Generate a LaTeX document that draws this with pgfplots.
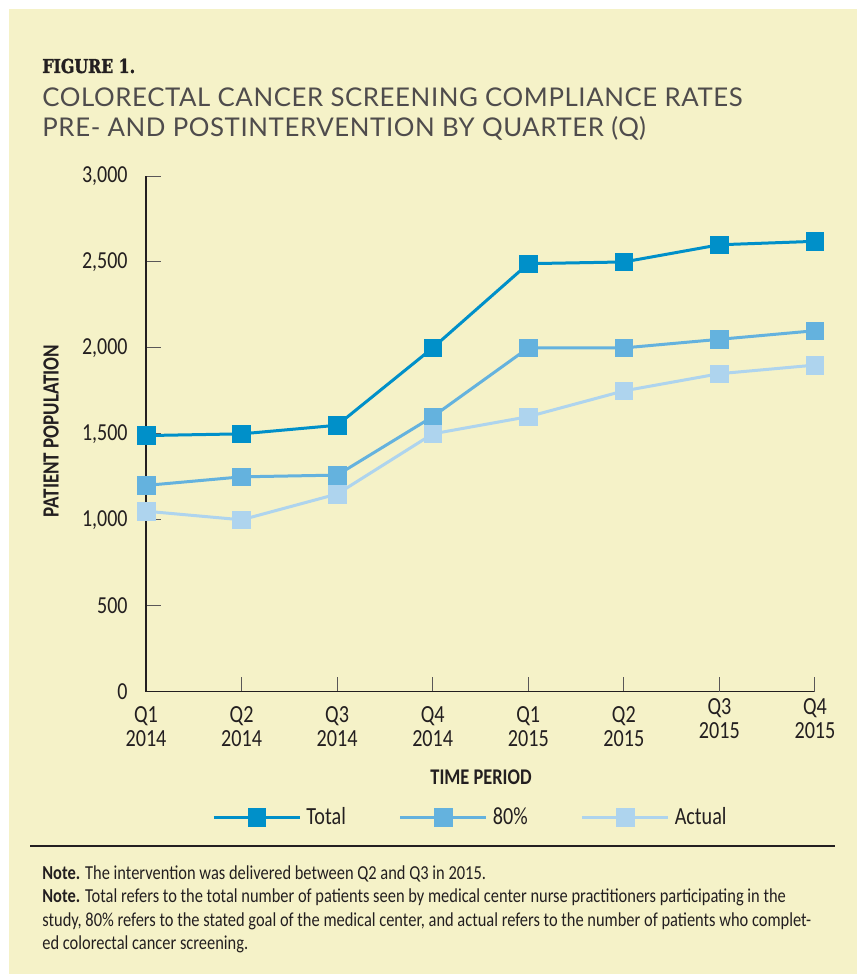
\documentclass[border=0pt]{standalone}
\usepackage{pgfplots}
\pgfplotsset{compat=1.18}
\usepackage{fontspec}
\setmainfont[FakeStretch=0.82]{Carlito}
\newfontfamily\notefont[FakeStretch=0.83]{Carlito}
\newfontfamily\titlefont[LetterSpace=2.3]{Lato}
\newfontfamily\figfont[FakeStretch=0.82, FakeBold=1.5]{DejaVu Serif}
\definecolor{bg}{RGB}{245,242,200}
\definecolor{ctotal}{RGB}{0,144,201}
\definecolor{ceighty}{RGB}{100,178,222}
\definecolor{cactual}{RGB}{174,212,238}
\definecolor{ink}{RGB}{35,31,32}
\begin{document}
\begin{tikzpicture}
\path[fill=white] (0pt,0pt) rectangle (428.5pt,-487pt);
\fill[bg] (4.5pt,-4.5pt) rectangle (428.5pt,-487pt);
\node[anchor=base west, inner sep=0pt, text=ink] at (21pt,-36.5pt) {\figfont\fontsize{9.6}{10}\selectfont\bfseries FIGURE 1.};
\node[anchor=base west, inner sep=0pt, text=ink!80] at (21pt,-53pt) {\titlefont\fontsize{12.9}{14}\selectfont COLORECTAL CANCER SCREENING COMPLIANCE RATES};
\node[anchor=base west, inner sep=0pt, text=ink!80] at (21pt,-68.5pt) {\titlefont\fontsize{12.9}{14}\selectfont PRE- AND POSTINTERVENTION BY QUARTER (Q)};
\begin{axis}[
  at={(73pt,-345.85pt)}, anchor=south west,
  scale only axis, width=334.5pt, height=257.85pt,
  xmin=0, xmax=7, ymin=0, ymax=3000,
  clip=false,
  axis lines=left,
  axis line style={-, draw=ink, line width=0.75pt},
  tick align=inside, major tick length=7.5pt,
  tick style={draw=ink!75, line width=0.5pt},
  xtick={0,...,5},
  xticklabels={{Q1\\2014},{Q2\\2014},{Q3\\2014},{Q4\\2014},{Q1\\2015},{Q2\\2015}},
  extra x ticks={6,7},
  extra x tick labels={{Q3\\2015},{Q4\\2015}},
  extra x tick style={xticklabel style={yshift=4pt}},
  xticklabel style={align=center, anchor=north, inner sep=0pt, yshift=-7pt, font=\fontsize{12.3}{12.2}\selectfont, text=ink},
  ytick={0,500,...,3000},
  yticklabel style={anchor=east, inner sep=0pt, xshift=-9pt, font=\fontsize{12.2}{13}\selectfont, text=ink},
  /pgf/number format/assume math mode=true,
  /pgf/number format/1000 sep={,},
  legend columns=3,
  legend style={draw=none, fill=none, at={(0.0987,-0.244)}, anchor=west, inner sep=0pt,
    font=\fontsize{12.3}{13}\selectfont, text=ink,
    /tikz/every even column/.append style={column sep=24pt},
    nodes={inner sep=2.5pt}},
  legend image code/.code={\draw[mark repeat=2,mark phase=2,#1] plot coordinates {(0pt,0pt) (21.5pt,0pt) (43pt,0pt)};},
  every axis plot/.append style={line width=1.5pt, mark=square*, mark size=4.4pt},
]
\addplot[color=ctotal, mark options={line width=0.3pt, fill=ctotal, draw=ctotal}] coordinates {
(0,1490) (1,1500) (2,1550) (3,2000) (4,2490) (5,2500) (6,2600) (7,2620)};
\addlegendentry{Total}
\addplot[color=ceighty, mark options={line width=0.3pt, fill=ceighty, draw=ceighty}] coordinates {
(0,1200) (1,1250) (2,1260) (3,1600) (4,2000) (5,2000) (6,2050) (7,2100)};
\addlegendentry{80\%}
\addplot[color=cactual, mark options={line width=0.3pt, fill=cactual, draw=cactual}] coordinates {
(0,1050) (1,1000) (2,1150) (3,1500) (4,1600) (5,1750) (6,1850) (7,1900)};
\addlegendentry{Actual}
\end{axis}
\node[rotate=90, inner sep=0pt, text=ink] at (25.5pt,-215.5pt) {\fontsize{11.6}{12}\selectfont\bfseries PATIENT POPULATION};
\node[inner sep=0pt, text=ink] at (240.5pt,-388.5pt) {\fontsize{11.2}{12}\selectfont\bfseries TIME PERIOD};
\draw[ink, line width=0.6pt] (15pt,-423pt) -- (417.5pt,-423pt);
\begin{scope}[every node/.style={anchor=base west, inner sep=0pt, text=ink, font=\notefont\fontsize{9.9}{11}\selectfont}]
\node at (21pt,-439.5pt) {\textbf{Note.} The intervention was delivered between Q2 and Q3 in 2015.};
\node at (21pt,-451.3pt) {\textbf{Note.} Total refers to the total number of patients seen by medical center nurse practitioners participating in the};
\node at (21pt,-463pt) {study, 80\% refers to the stated goal of the medical center, and actual refers to the number of patients who complet-};
\node at (21pt,-474.7pt) {ed colorectal cancer screening.};
\end{scope}
\end{tikzpicture}
\end{document}
